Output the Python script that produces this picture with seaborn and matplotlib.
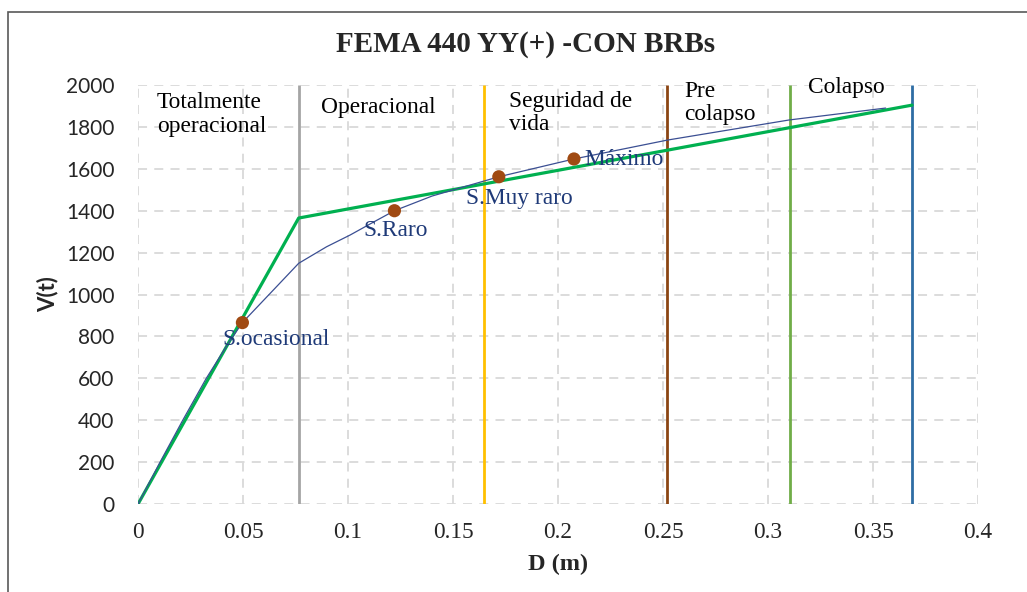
import numpy as np
import pandas as pd
import matplotlib.pyplot as plt
import seaborn as sns
from matplotlib.patches import Rectangle

# Capacity curve (pushover)
curve_d = [0, 0.0105, 0.0213, 0.0325, 0.0432, 0.0497, 0.0644, 0.0765, 0.0898, 0.101,
           0.112, 0.1221, 0.14, 0.1718, 0.2076, 0.252, 0.31, 0.356]
curve_v = [0, 200, 400, 600, 770, 866, 1021, 1149, 1228, 1284,
           1345, 1400, 1470, 1562, 1647, 1737, 1833, 1890]

# Bilinear idealisation
bil_d = [0, 0.0765, 0.3686]
bil_v = [0, 1365, 1904]

# Performance points
pt_names = ["S.ocasional", "S.Raro", "S.Muy raro", "Máximo"]
pt_d = [0.0497, 0.1221, 0.1718, 0.2076]
pt_v = [866, 1400, 1562, 1647]

# Performance level limits
limit_d = [0.0765, 0.1646, 0.252, 0.3103, 0.3686]
limit_colors = ["#A5A5A5", "#FFC000", "#8B4513", "#70AD47", "#2E6DA4"]

zones = ["Totalmente\noperacional", "Operacional", "Seguridad de\nvida", "Pre\ncolapso", "Colapso"]

sns.set_style("white")
plt.rcParams['font.family'] = ['Liberation Serif', 'DejaVu Serif']

fig = plt.figure(figsize=(10.27, 5.92), dpi=100)
ax = fig.add_axes([0.1344, 0.1486, 0.8179, 0.7078])

# grid
grid_kw = dict(color="#D9D9D9", lw=1.3, ls=(0, (5, 4)), zorder=0)
for x in np.arange(0, 0.401, 0.05):
    ax.axvline(x, **grid_kw)
for y in range(0, 2001, 200):
    ax.axhline(y, **grid_kw)

for d, c in zip(limit_d, limit_colors):
    ax.vlines(d, 0, 2000, color=c, lw=2.0, zorder=2)

sns.lineplot(x=bil_d, y=bil_v, sort=False, color="#00B050", lw=2.3, ax=ax, zorder=3)
sns.lineplot(x=curve_d, y=curve_v, sort=False, color="#3B4F93", lw=0.9, ax=ax, zorder=4)
sns.scatterplot(x=pt_d, y=pt_v, color="#A04A12", s=90, edgecolor="none", ax=ax, zorder=5)

lab_pos = [(0.040, 787), (0.1071, 1307), (0.156, 1460), (0.2124, 1646)]
for name, (x, y) in zip(pt_names, lab_pos):
    ax.text(x, y, name, color="#1F3A78", fontsize=16.8, va="center", ha="left", zorder=6)

zone_pos = [(0.009, 1860), (0.0871, 1895), (0.1767, 1865), (0.2600, 1913), (0.319, 1986)]
for name, (x, y) in zip(zones, zone_pos):
    ax.text(x, y, name, color="black", fontsize=16.8, va="center", ha="left",
            linespacing=1.15, zorder=6)

ax.set_xlim(0, 0.4)
ax.set_ylim(0, 2000)
ax.set_xticks(np.arange(0, 0.401, 0.05))
ax.set_xticklabels(["0", "0.05", "0.1", "0.15", "0.2", "0.25", "0.3", "0.35", "0.4"])
ax.set_yticks(range(0, 2001, 200))
for lbl in ax.get_xticklabels():
    lbl.set_fontsize(16.8)
for lbl in ax.get_yticklabels():
    lbl.set_fontsize(15)
    lbl.set_family(["Lato", "DejaVu Sans"])
ax.tick_params(axis="x", pad=13, length=0)
ax.tick_params(axis="y", pad=17, length=0)
sns.despine(ax=ax, left=True, bottom=True)

ax.set_xlabel("D (m)", fontsize=17.5, fontweight="bold", labelpad=8)
ax.set_ylabel("V(t)", fontsize=16, fontweight="bold", family=["Lato", "DejaVu Sans"], labelpad=5)
fig.text(0.512, 0.924, "FEMA 440 YY(+) -CON BRBs", ha="center", va="center",
         fontsize=21, fontweight="bold")

# chart area border
fig.patches.append(Rectangle((8 / 1027, -0.1), 1.2, 1 - 12 / 592 + 0.1,
                             transform=fig.transFigure, fill=False,
                             edgecolor="#595959", lw=1.2))

fig.savefig("out.png", dpi=100)
